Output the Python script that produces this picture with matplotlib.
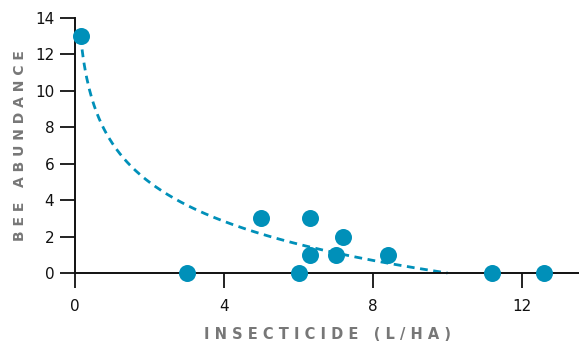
import numpy as np
import matplotlib
matplotlib.use("Agg")
import matplotlib.pyplot as plt

insecticide = [0.15, 3.0, 5.0, 6.0, 6.3, 6.3, 7.0, 7.2, 8.4, 11.2, 12.6]
bee_abundance = [13, 0, 3, 0, 3, 1, 1, 2, 1, 0, 0]
fit_x_start, fit_x_end = 0.15, 10.0
fit_y_start = 13.0
xticks = [0, 4, 8, 12]
yticks = [0, 2, 4, 6, 8, 10, 12, 14]

color = "#0090b9"

fig = plt.figure(figsize=(5.79, 3.42), dpi=100)
ax = fig.add_axes([75/579, 69/342, 504/579, 255/342])

# log fit: y = b*(ln(x_end) - ln(x))
b = fit_y_start / (np.log(fit_x_end) - np.log(fit_x_start))
xf = np.linspace(fit_x_start, fit_x_end, 300)
yf = b * (np.log(fit_x_end) - np.log(xf))
ax.plot(xf, yf, linestyle=(0, (2.8, 2.0)), color=color, lw=2, zorder=2, clip_on=False)

ax.scatter(insecticide, bee_abundance, s=150, color=color, zorder=3, clip_on=False, linewidths=0)

ax.set_xlim(0, 13.53)
ax.set_ylim(0, 14)
ax.set_xticks(xticks)
ax.set_yticks(yticks)
for s in ["top", "right"]:
    ax.spines[s].set_visible(False)
for s in ["left", "bottom"]:
    ax.spines[s].set_linewidth(1.4)
    ax.spines[s].set_color("#111111")
ax.tick_params(axis="both", length=11, width=1.4, color="#222222",
               labelsize=11, labelcolor="#111111")
ax.tick_params(axis="y", pad=4)
ax.tick_params(axis="x", pad=8)

lab_kw = dict(fontsize=10.5, fontweight="bold", color="#777777", family="DejaVu Sans")
ax.set_xlabel("I N S E C T I C I D E   ( L / H A )", labelpad=9, **lab_kw)
ax.set_ylabel("B E E   A B U N D A N C E", labelpad=6, fontsize=10, fontweight="bold",
              color="#777777", family="DejaVu Sans")

fig.savefig("out.png", dpi=100)
